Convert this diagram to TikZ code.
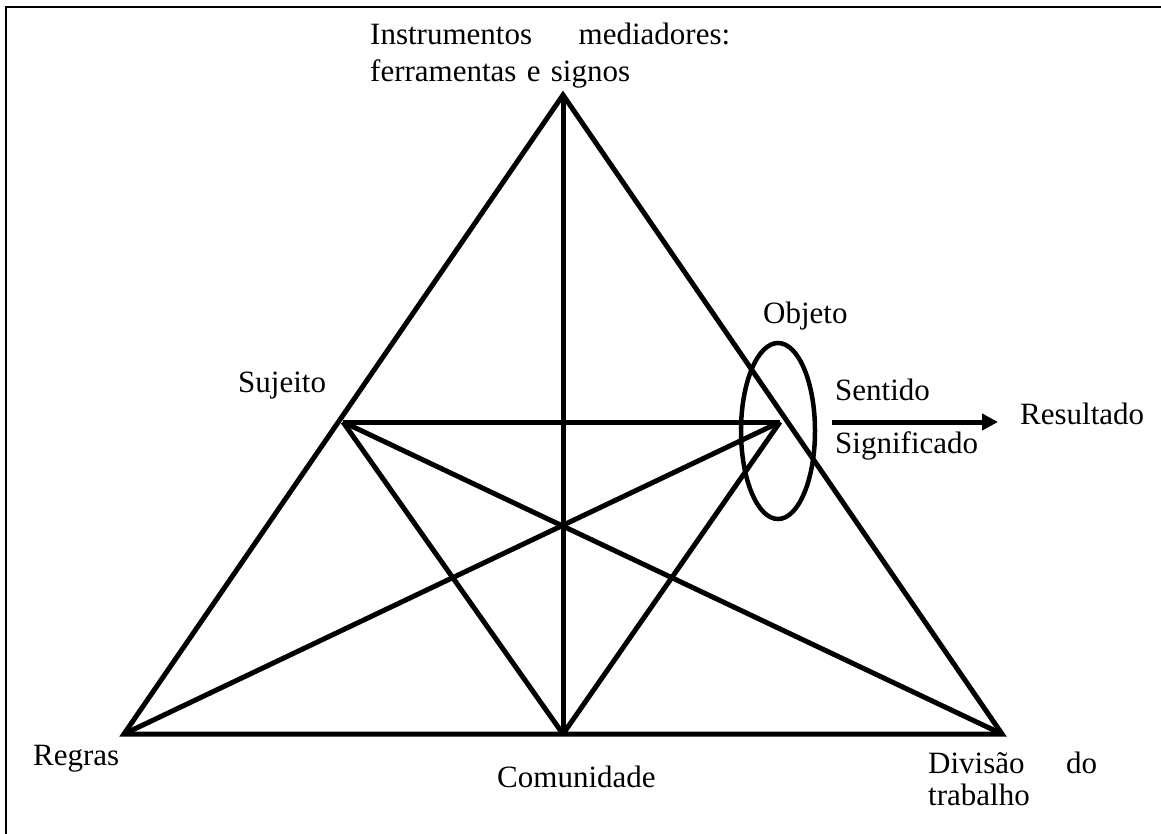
\documentclass[tikz,border=0pt]{standalone}
\usepackage{fontspec}
\setmainfont{Liberation Serif}
\usetikzlibrary{arrows.meta,shapes.geometric}
\begin{document}
\begin{tikzpicture}[x=1pt,y=-1pt,
  edge/.style={line width=5pt, line join=miter},
  lbl/.style={inner sep=0pt, font=\fontsize{31}{37}\selectfont},
]
\useasboundingbox (0,0) rectangle (1161,834);
% frame
\draw[line width=2pt] (1170,7) -- (6,7) -- (6,850);

% activity system vertices
\coordinate (A) at (563,95);
\coordinate (R) at (124,734);
\coordinate (D) at (1002,734);
\coordinate (C) at (563,734);
\coordinate (S) at (343,422);
\coordinate (O) at (780,422);

\draw[edge] (A) -- (R) -- (D) -- cycle;
\draw[edge] (A) -- (C);
\draw[edge] (S) -- (O);
\draw[edge] (S) -- (C);
\draw[edge] (S) -- (D);
\draw[edge] (O) -- (R);
\draw[edge] (O) -- (C);

% object ellipse and outcome arrow
\node[draw, ellipse, line width=4.5pt, minimum width=74pt, minimum height=176pt, inner sep=0pt] (obj) at (778,431) {};
\coordinate (ar1) at (832,422);
\coordinate (ar2) at (998,422);
\draw[line width=5pt, -{Triangle[length=16pt,width=16pt]}] (ar1) -- (ar2);

% labels
\node[lbl, anchor=north west, text width=360pt, align=left] (inst) at (370,23)
  {Instrumentos\hfill mediadores:\\ferramentas e signos};
\node[lbl, anchor=base west] (objeto) at (763,323) {Objeto};
\node[lbl, anchor=base west] (sentido) at (835,400) {Sentido};
\node[lbl, anchor=base west] (signif) at (835,453) {Significado};
\node[lbl, anchor=base west] (result) at (1020,424) {Resultado};
\node[lbl, anchor=base west] (sujeito) at (238,392) {Sujeito};
\node[lbl, anchor=base west] (regras) at (33,765) {Regras};
\node[lbl, anchor=base west] (comun) at (497,787) {Comunidade};
\node[lbl, anchor=north west, text width=169pt, align=left, font=\fontsize{31}{32}\selectfont] (divisao) at (928,752)
  {Divisão\hfill do\\trabalho};
\end{tikzpicture}
\end{document}
